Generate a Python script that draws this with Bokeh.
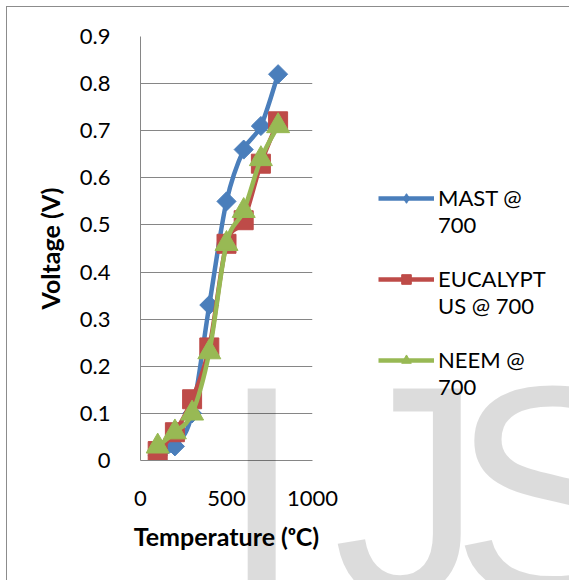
from bokeh.plotting import figure
from bokeh.models import (ColumnDataSource, FixedTicker, Legend, LegendItem, Div)
from bokeh.layouts import column
from bokeh.embed import file_html
from bokeh.resources import INLINE

# ---- data ----
temperature = [100, 200, 300, 400, 500, 600, 700, 800]
mast = [0.01, 0.03, 0.10, 0.33, 0.55, 0.66, 0.71, 0.82]
eucalyptus = [0.02, 0.06, 0.13, 0.24, 0.46, 0.51, 0.63, 0.72]
neem = [0.03, 0.06, 0.10, 0.23, 0.46, 0.53, 0.64, 0.71]
series_names = ["MAST @\n700", "EUCALYPT\nUS @ 700", "NEEM @\n700"]
y_ticks = [0, 0.1, 0.2, 0.3, 0.4, 0.5, 0.6, 0.7, 0.8, 0.9]
y_tick_labels = ["0", "0.1", "0.2", "0.3", "0.4", "0.5", "0.6", "0.7", "0.8", "0.9"]
x_ticks = [0, 500, 1000]
x_tick_labels = ["0", "500", "1000"]
watermark = ["I", "J", "S"]

colors = ["#4A7EBB", "#BE4B48", "#98B954"]
markers = ["square", "square", "triangle"]
legend_markers = ["diamond", "square", "triangle"]
marker_angles = [0.785398, 0, 0]
marker_sizes = [13.5, 19, 23]
legend_marker_sizes = [19, 19, 23]
FONT = "Lato"

p = figure(frame_width=171, frame_height=423, output_backend="svg", toolbar_location=None,
           x_range=(0, 1000), y_range=(0, 0.9),
           min_border_left=133, min_border_top=29, min_border_bottom=121,
           min_border_right=0)
p.styles = {"margin-left": "6px", "margin-top": "6px",
            "border-left": "1px solid #8c8c8c", "border-top": "1px solid #8c8c8c"}
p.outline_line_color = None
p.background_fill_color = "white"
p.border_fill_color = "white"

def smooth_bezier(xs, ys):
    n = len(xs)
    x0, y0, x1, y1, cx0, cy0, cx1, cy1 = [], [], [], [], [], [], [], []
    for i in range(n - 1):
        im = max(i - 1, 0)
        ip2 = min(i + 2, n - 1)
        x0.append(xs[i]); y0.append(ys[i])
        x1.append(xs[i + 1]); y1.append(ys[i + 1])
        cx0.append(xs[i] + (xs[i + 1] - xs[im]) / 6)
        cy0.append(ys[i] + (ys[i + 1] - ys[im]) / 6)
        cx1.append(xs[i + 1] - (xs[ip2] - xs[i]) / 6)
        cy1.append(ys[i + 1] - (ys[ip2] - ys[i]) / 6)
    return dict(x0=x0, y0=y0, x1=x1, y1=y1, cx0=cx0, cy0=cy0, cx1=cx1, cy1=cy1)

items = []
for name, vals, c, m, lm, ma, ms, lms in zip(series_names, [mast, eucalyptus, neem], colors,
                                             markers, legend_markers, marker_angles,
                                             marker_sizes, legend_marker_sizes):
    src = ColumnDataSource(dict(x=temperature, y=vals))
    bsrc = ColumnDataSource(smooth_bezier(temperature, vals))
    p.bezier(x0="x0", y0="y0", x1="x1", y1="y1", cx0="cx0", cy0="cy0", cx1="cx1", cy1="cy1",
             source=bsrc, line_color=c, line_width=4.5)
    p.scatter("x", "y", source=src, marker=m, angle=ma, size=ms, fill_color=c, line_color=c)
    proxy_line = p.line("x", "y", source=src, line_color=c, line_width=4.5)
    proxy_line.visible = False
    proxy_mark = p.scatter("x", "y", source=src, marker=lm, size=lms, fill_color=c, line_color=c)
    proxy_mark.visible = False
    items.append(LegendItem(label="\n" + name, renderers=[proxy_line, proxy_mark]))

legend = Legend(items=items, location=(66, 60), orientation="vertical",
                glyph_width=56, glyph_height=24, label_standoff=4, spacing=-10,
                padding=0, margin=0, border_line_color=None, background_fill_alpha=0,
                label_text_font=FONT, label_text_font_size="22px", label_text_color="black",
                label_text_line_height=1.36)
p.add_layout(legend, "right")

# axes
p.xaxis.ticker = FixedTicker(ticks=x_ticks)
p.xaxis.major_label_overrides = dict(zip(x_ticks, x_tick_labels))
p.yaxis.ticker = FixedTicker(ticks=y_ticks)
p.yaxis.major_label_overrides = dict(zip(y_ticks, y_tick_labels))
for ax in (p.xaxis, p.yaxis):
    ax.axis_line_color = "#868686"
    ax.axis_line_width = 1
    ax.major_tick_line_color = None
    ax.minor_tick_line_color = None
    ax.major_label_text_font = FONT
    ax.major_label_text_font_size = "22px"
    ax.major_label_text_color = "black"
    ax.axis_label_text_font = FONT
    ax.axis_label_text_font_size = "25px"
    ax.axis_label_text_font_style = "bold"
    ax.axis_label_text_color = "black"
p.xaxis.axis_label = "Temperature (ᵒC)"
p.yaxis.axis_label = "Voltage (V)"
p.yaxis.major_label_standoff = 24
p.xaxis.major_label_standoff = 24
p.yaxis.axis_label_standoff = 12
p.xaxis.axis_label_standoff = 12
p.xgrid.grid_line_color = None
p.ygrid.grid_line_color = "#868686"
p.ygrid.grid_line_width = 1

# translucent watermark layer over the page (as real SVG text)
wm_x = [215, 328, 446]
spans = "".join(
    f'<text x="{x}" y="590" font-family="Lato" font-weight="400" font-size="300" '
    f'fill="black" fill-opacity="0.137">{ch}</text>'
    for ch, x in zip(watermark, wm_x))
wm = Div(text=f'<svg width="569" height="580" xmlns="http://www.w3.org/2000/svg">{spans}</svg>',
         width=569, height=580,
         styles={"position": "absolute", "left": "0px", "top": "0px",
                 "pointer-events": "none", "z-index": "10", "overflow": "hidden"})

root = column(p, wm)
open("out.html", "w").write(file_html(root, INLINE))
